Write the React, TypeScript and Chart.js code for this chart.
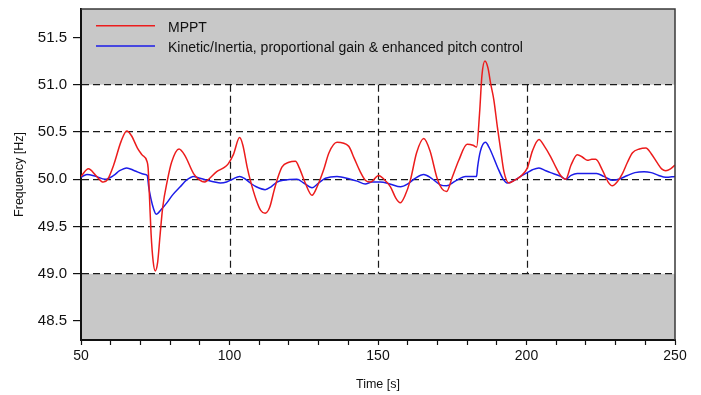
import React, { useEffect, useRef } from 'react';
import { Chart, registerables } from 'chart.js';

Chart.register(...registerables);

// ---- data ----
const seriesLabels = ['MPPT', 'Kinetic/Inertia, proportional gain & enhanced pitch control'];
const seriesColors = ['#ec1c1c', '#1c1ce8'];

const mpptTime = [
  50, 52.5, 55, 57.5, 59, 61, 63.5, 65.4, 67, 69, 70.5, 72.2, 72.6, 73.1, 73.6, 74.3, 75.0, 75.8, 76.6, 77.5,
  79.1, 80.5, 83.0, 85, 87.9, 90, 91.5, 93, 95.7, 98, 99.5, 101.3, 103.4, 104.5, 106, 107, 109, 110.5, 112,
  113.5, 115, 116, 117.7, 120, 122.2, 123.5, 125.5, 127.8, 129.5, 131.7, 133.5, 136.2, 140.1, 142, 144,
  145.7, 147.5, 150.2, 152, 154.2, 156, 157.5, 159, 160.9, 163, 165.4, 167.5, 169.9, 171.5, 173.1, 175,
  177.2, 180, 182, 183.2, 184.2, 185.0, 186.0, 187.0, 188.0, 189, 190.2, 191.3, 192.4, 194.1, 196, 198,
  200.3, 202, 204.2, 206, 208.1, 210, 211.5, 213.2, 215, 217.1, 219, 220.5, 222, 223.3, 225.5, 227.5,
  228.9, 230.5, 232.3, 234, 235.7, 238, 240.2, 242, 244.1, 245.5, 246.9, 248.5, 250,
];
const mpptFreq = [
  50.03, 50.11, 50.04, 49.97, 50.0, 50.15, 50.4, 50.51, 50.46, 50.33, 50.26, 50.19, 50.12, 49.78, 49.42, 49.13, 49.03, 49.12, 49.4, 49.7,
  49.99, 50.18, 50.32, 50.25, 50.06, 49.99, 49.97, 50.0, 50.08, 50.12, 50.16, 50.26, 50.44, 50.36, 50.12, 49.99, 49.78, 49.67, 49.64,
  49.7, 49.88, 49.99, 50.13, 50.18, 50.19, 50.12, 49.96, 49.83, 49.92, 50.1, 50.28, 50.39, 50.35, 50.22, 50.08,
  49.99, 49.97, 50.04, 50.0, 49.92, 49.8, 49.75, 49.82, 49.99, 50.28, 50.43, 50.3, 50.01, 49.9, 49.87, 50.02,
  50.2, 50.37, 50.36, 50.34, 50.7, 51.1, 51.25, 51.18, 51.0, 50.84, 50.55, 50.31, 50.08, 49.96, 49.99, 50.03,
  50.12, 50.3, 50.42, 50.35, 50.24, 50.12, 50.04, 50.0, 50.15, 50.26, 50.23, 50.2, 50.21, 50.21, 50.1, 49.97,
  49.93, 49.97, 50.06, 50.18, 50.28, 50.32, 50.33, 50.27, 50.17, 50.11, 50.09, 50.11, 50.15,
];

const kineticTime = [
  50, 52, 55, 58.1, 61, 63, 65.4, 68, 71.6, 72.3, 72.8, 73.5, 74.5, 75.3, 77, 78.9, 81, 83.4, 85.5, 87.9,
  90, 92.4, 95, 96.9, 99, 101, 103.4, 105, 107, 109, 112, 114, 116, 118.2, 122.7, 125, 127.8, 130, 132.3,
  136.2, 140.7, 143, 145.7, 148, 150.8, 154, 157.6, 160, 162.5, 165.4, 168, 171, 173.1, 176, 179.5, 183.2,
  183.5, 184.5, 186.2, 187.5, 190.2, 192, 193.5, 196, 198, 200.3, 202, 204.2, 206.5, 208.1, 211.5, 213.2,
  215, 217.1, 220, 223.6, 226, 228.9, 231, 234, 236.5, 239.6, 242, 244.5, 246.9, 250,
];
const kineticFreq = [
  50.02, 50.05, 50.03, 50.0, 50.04, 50.09, 50.12, 50.09, 50.05, 50.04, 49.92, 49.8, 49.68, 49.63, 49.68, 49.75, 49.84, 49.92, 49.99, 50.03,
  50.01, 49.99, 49.97, 49.96, 49.97, 50.0, 50.03, 50.01, 49.96, 49.92, 49.89, 49.92, 49.97, 49.99, 50.0, 49.96, 49.91, 49.96, 50.01,
  50.03, 50.0, 49.98, 49.95, 49.97, 49.97, 49.95, 49.92, 49.95, 50.01, 50.05, 50.01, 49.94, 49.93, 49.98, 50.03, 50.03,
  50.12, 50.3, 50.39, 50.33, 50.13, 50.01, 49.96, 49.99, 50.03, 50.07, 50.1, 50.12, 50.09, 50.07, 50.03, 50.0,
  50.04, 50.06, 50.06, 50.06, 50.03, 49.99, 50.0, 50.04, 50.07, 50.08, 50.07, 50.04, 50.02, 50.03,
];

const xTickValues = [50, 60, 70, 80, 90, 100, 110, 120, 130, 140, 150, 160, 170, 180, 190, 200, 210, 220, 230, 240, 250];
const xLabelValues = [50, 100, 150, 200, 250];
const xGridValues = [100, 150, 200];
const yTickValues = [48.5, 49.0, 49.5, 50.0, 50.5, 51.0, 51.5];
const yGridValues = [49.0, 49.5, 50.0, 50.5, 51.0];
const bandLow = 49.0;
const bandHigh = 51.0;
const xTitle = 'Time [s]';
const yTitle = 'Frequency [Hz]';

const FONT = '"Liberation Sans", Arial, sans-serif';

const bandsPlugin = {
  id: 'bandsPlugin',
  beforeDraw(chart: any) {
    const { ctx, chartArea: a, scales } = chart;
    const y = scales.y;
    const yHi = y.getPixelForValue(bandHigh);
    const yLo = y.getPixelForValue(bandLow);
    ctx.save();
    ctx.fillStyle = '#ffffff';
    ctx.fillRect(a.left, a.top, a.right - a.left, a.bottom - a.top);
    ctx.fillStyle = '#c8c8c8';
    ctx.fillRect(a.left, a.top, a.right - a.left, yHi - a.top);
    ctx.fillRect(a.left, yLo, a.right - a.left, a.bottom - yLo);
    ctx.restore();
  },
  beforeDatasetsDraw(chart: any) {
    const { ctx, scales } = chart;
    const x = scales.x;
    const y = scales.y;
    const yHi = y.getPixelForValue(bandHigh);
    const yLo = y.getPixelForValue(bandLow);
    ctx.save();
    ctx.strokeStyle = '#1a1a1a';
    ctx.lineWidth = 1.2;
    ctx.setLineDash([7, 4]);
    xGridValues.forEach((v) => {
      const px = Math.round(x.getPixelForValue(v)) + 0.5;
      ctx.beginPath();
      ctx.moveTo(px, yHi);
      ctx.lineTo(px, yLo);
      ctx.stroke();
    });
    ctx.restore();
  },
  afterDatasetsDraw(chart: any) {
    const { ctx, chartArea: a } = chart;
    ctx.save();
    // frame (top / right)
    ctx.strokeStyle = '#3a3a3a';
    ctx.lineWidth = 1.5;
    ctx.beginPath();
    ctx.moveTo(a.left, a.top);
    ctx.lineTo(a.right, a.top);
    ctx.lineTo(a.right, a.bottom);
    ctx.stroke();
    // legend
    ctx.font = `14px ${FONT}`;
    ctx.textBaseline = 'middle';
    ctx.textAlign = 'left';
    seriesLabels.forEach((label, i) => {
      const ly = a.top + 16.7 + i * 20.3;
      ctx.strokeStyle = seriesColors[i];
      ctx.lineWidth = 1.5;
      ctx.beginPath();
      ctx.moveTo(a.left + 15, ly);
      ctx.lineTo(a.left + 74, ly);
      ctx.stroke();
      ctx.fillStyle = '#111';
      ctx.fillText(label, a.left + 87, ly + 2);
    });
    ctx.restore();
  },
};

export default function App() {
  const ref = useRef<HTMLCanvasElement>(null);

  useEffect(() => {
    if (!ref.current) return;
    const chart = new Chart(ref.current, {
      type: 'line',
      data: {
        datasets: [
          {
            label: seriesLabels[0],
            data: mpptTime.map((t, i) => ({ x: t, y: mpptFreq[i] })),
            borderColor: seriesColors[0],
            backgroundColor: seriesColors[0],
            borderWidth: 1.5,
            pointRadius: 0,
            cubicInterpolationMode: 'monotone',
            fill: false,
          },
          {
            label: seriesLabels[1],
            data: kineticTime.map((t, i) => ({ x: t, y: kineticFreq[i] })),
            borderColor: seriesColors[1],
            backgroundColor: seriesColors[1],
            borderWidth: 1.5,
            pointRadius: 0,
            cubicInterpolationMode: 'monotone',
            fill: false,
          },
        ],
      },
      plugins: [bandsPlugin],
      options: {
        responsive: false,
        animation: false,
        events: [],
        layout: { padding: { left: 0, right: 26, top: 9, bottom: 0 } },
        plugins: {
          legend: { display: false },
          tooltip: { enabled: false },
        },
        scales: {
          x: {
            type: 'linear',
            min: 50,
            max: 250,
            afterBuildTicks: (axis: any) => {
              axis.ticks = xTickValues.map((v) => ({ value: v }));
            },
            afterFit: (axis: any) => {
              axis.height = 55;
              axis.paddingLeft = 0;
              axis.paddingRight = 0;
            },
            ticks: {
              autoSkip: false,
              maxRotation: 0,
              padding: 3,
              color: '#111',
              font: { size: 14, family: FONT },
              callback: (v: any) => (xLabelValues.includes(Number(v)) ? String(v) : ''),
            },
            grid: {
              drawOnChartArea: false,
              drawTicks: true,
              tickLength: 5,
              tickColor: '#111',
              tickWidth: 1.2,
            },
            border: { display: true, color: '#111', width: 2 },
            title: {
              display: true,
              text: xTitle,
              color: '#111',
              font: { size: 12.5, family: FONT },
              padding: { top: 0, bottom: 3 },
            },
          },
          y: {
            type: 'linear',
            min: 48.3,
            max: 51.8,
            afterBuildTicks: (axis: any) => {
              axis.ticks = yTickValues.map((v) => ({ value: v }));
            },
            afterFit: (axis: any) => {
              axis.width = 81;
              axis.paddingTop = 0;
              axis.paddingBottom = 0;
            },
            ticks: {
              padding: 6,
              color: '#111',
              font: { size: 15, family: FONT },
              callback: (v: any) => Number(v).toFixed(1),
            },
            grid: {
              drawOnChartArea: true,
              drawTicks: true,
              tickLength: 8,
              lineWidth: 1.2,
              tickWidth: 1.2,
              tickColor: '#111',
              tickBorderDash: [],
              color: (c: any) =>
                c.tick && yGridValues.includes(c.tick.value) ? '#1a1a1a' : 'rgba(0,0,0,0)',
            },
            border: { display: true, color: '#111', width: 2, dash: [7, 4] },
            title: {
              display: true,
              text: yTitle,
              color: '#111',
              font: { size: 12.5, family: FONT },
              padding: { top: 12, bottom: 0 },
            },
          },
        },
      },
    } as any);
    return () => chart.destroy();
  }, []);

  return (
    <div style={{ position: 'fixed', left: 0, top: 0, width: 701, height: 395, background: '#fff' }}>
      <canvas ref={ref} width={701} height={395} style={{ display: 'block', width: 701, height: 395 }} />
    </div>
  );
}
